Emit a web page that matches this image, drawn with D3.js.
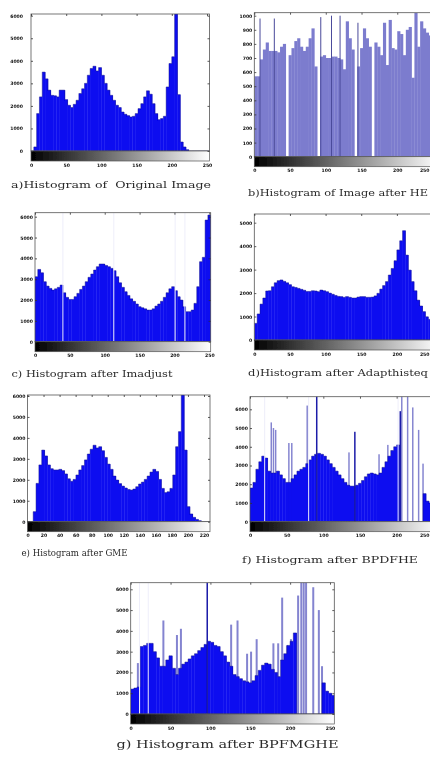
<!DOCTYPE html>
<html>
<head>
<meta charset="utf-8">
<title>Histograms</title>
<script src="https://d3js.org/d3.v7.min.js"></script>
<style>
  html, body { margin: 0; padding: 0; background: #fff; }
  svg { display: block; }
  .tick text { font-family: "DejaVu Sans", sans-serif; font-weight: bold; font-size: 4.6px; fill: #111; }
  .tick line { stroke: #333; stroke-width: 0.8; }
  .caption { font-family: "DejaVu Serif", "Liberation Serif", serif; fill: #2a2a2a; white-space: pre; }
</style>
</head>
<body>
<svg id="chart" width="430" height="766"></svg>
<script>
'use strict';

// axis ticks
var levelTicks = [0, 50, 100, 150, 200, 250],
    gmeTicks = [0, 20, 40, 60, 80, 100, 120, 140, 160, 180, 200, 220],
    countTicks = [0, 1000, 2000, 3000, 4000, 5000, 6000],
    heTicks = [0, 100, 200, 300, 400, 500, 600, 700, 800, 900, 1000],
    adaptTicks = [0, 1000, 2000, 3000, 4000, 5000];

// pixel counts, one value per bin of 4 gray levels
var originalCounts = [0, 180, 1660, 2400, 3500, 3200, 2700, 2470, 2450, 2400,
    2700, 2700, 2280, 2030, 1930, 2070, 2250, 2550, 2760, 3000,
    3360, 3660, 3760, 3550, 3700, 3360, 3000, 2700, 2470, 2250,
    2030, 1930, 1730, 1630, 1570, 1510, 1540, 1660, 1880, 2100,
    2400, 2670, 2520, 2100, 1660, 1390, 1440, 1540, 2840, 3880,
    4180, 6300, 2500, 400, 180, 60, 0, 0, 0, 0,
    0, 0, 0, 0];

var heCounts = [570, 570, 690, 760, 810, 750, 750, 750, 740, 780,
    800, 0, 720, 770, 820, 840, 780, 750, 780, 840,
    910, 640, 0, 710, 720, 700, 700, 710, 710, 700,
    690, 620, 960, 840, 760, 0, 640, 770, 910, 840,
    780, 0, 810, 780, 720, 950, 650, 970, 770, 760,
    890, 870, 720, 900, 920, 560, 1020, 780, 960, 910,
    880, 860, 850, 840];
var heLines = [[8, 980], [28, 980], [93, 990], [108, 1000], [120, 1000], [145, 950]];

var imadjustCounts = [3120, 3470, 3310, 2880, 2670, 2560, 2480, 2540, 2610, 2720,
    2350, 2130, 2030, 2030, 2160, 2320, 2510, 2670, 2880, 3090,
    3250, 3440, 3600, 3730, 3730, 3660, 3600, 3520, 3410, 3120,
    2830, 2610, 2400, 2220, 2060, 1940, 1810, 1680, 1630, 1580,
    1520, 1520, 1580, 1710, 1810, 1940, 2130, 2350, 2540, 2640,
    2450, 2160, 2000, 1680, 1440, 1440, 1520, 1840, 2640, 3840,
    4050, 5840, 6080, 5680];
var imadjustGaps = [40, 113, 201, 215];

var adaptCounts = [710, 1110, 1530, 1790, 2090, 2100, 2270, 2440, 2530, 2560,
    2500, 2440, 2360, 2270, 2240, 2200, 2160, 2120, 2070, 2070,
    2100, 2090, 2060, 2130, 2100, 2060, 2000, 1950, 1900, 1860,
    1850, 1820, 1850, 1820, 1790, 1790, 1830, 1850, 1850, 1820,
    1820, 1830, 1880, 1990, 2170, 2320, 2490, 2770, 3050, 3380,
    3840, 4230, 4660, 3620, 2980, 2490, 2100, 1700, 1450, 1210,
    990, 880, 780, 680];

var gmeCounts = [0, 0, 480, 1830, 2710, 3420, 3140, 2710, 2530, 2470,
    2470, 2500, 2440, 2280, 2050, 1930, 2020, 2230, 2470, 2680,
    2950, 3230, 3460, 3650, 3520, 3580, 3390, 3070, 2750, 2500,
    2180, 1990, 1820, 1700, 1610, 1540, 1510, 1560, 1670, 1800,
    1890, 2020, 2180, 2370, 2500, 2400, 2020, 1590, 1390, 1430,
    1590, 2230, 3580, 4300, 6100, 3420, 720, 370, 210, 110,
    50, 0, 0, 0];

var bpdfheCounts = [1800, 2100, 2800, 3200, 3500, 3400, 2700, 2600, 2600, 2700,
    2500, 2300, 2100, 2100, 2300, 2500, 2700, 2800, 2900, 3100,
    3300, 3500, 3600, 3650, 3600, 3500, 3300, 3100, 2900, 2700,
    2500, 2300, 2100, 1950, 1900, 1900, 1950, 2050, 2200, 2400,
    2550, 2600, 2550, 2500, 2600, 2900, 3200, 3500, 3800, 4000,
    4100, 0, 0, 0, 0, 0, 0, 0, 0, 1500,
    1100, 1000, 800, 600];
// [gray level, count, tone] : l = light stem, d = dark stem
var bpdfheSpikes = [[29, 5300, 'l'], [32, 5000, 'l'], [35, 4900, 'l'], [53, 4200, 'l'], [57, 4200, 'l'],
    [78, 6200, 'l'], [91, 6800, 'd'], [135, 3700, 'l'], [143, 4800, 'd'], [176, 3600, 'l'],
    [188, 4100, 'l'], [205, 5900, 'd'], [207, 6800, 'l'], [215, 6800, 'l'], [222, 6100, 'l'],
    [230, 4900, 'l'], [236, 3100, 'l']];
var bpdfheGaps = [20, 80, 202];

var bpfmgheCounts = [1200, 1250, 1300, 3250, 3300, 3400, 3400, 3000, 2700, 2300,
    2300, 2600, 2800, 2200, 1900, 2200, 2400, 2500, 2650, 2800,
    2900, 3050, 3200, 3350, 3500, 3450, 3300, 3250, 3000, 2800,
    2500, 2300, 1900, 1800, 1700, 1600, 1550, 1500, 1600, 1850,
    2100, 2350, 2450, 2400, 2150, 2000, 1800, 2600, 2900, 3300,
    3500, 3900, 0, 0, 0, 0, 0, 0, 0, 0,
    1500, 1100, 1000, 900];
var bpfmgheSpikes = [[9, 2450, 'l'], [41, 4500, 'l'], [58, 3800, 'l'], [63, 4100, 'l'], [96, 6500, 'd'],
    [126, 4300, 'l'], [134, 4500, 'l'], [146, 2900, 'l'], [151, 3000, 'l'], [158, 3600, 'l'],
    [179, 3400, 'l'], [185, 3400, 'l'], [190, 5600, 'l'], [196, 3300, 'l'], [201, 3600, 'l'],
    [210, 5700, 'l'], [214, 6500, 'l'], [217, 6500, 'l'], [220, 6500, 'l'], [229, 6100, 'l'],
    [236, 5000, 'l'], [240, 2300, 'l']];
var bpfmgheGaps = [11, 22];

var captions = [
    'a)Histogram of  Original Image',
    'b)Histogram of Image after HE',
    'c) Histogram after Imadjust',
    'd)Histogram after Adapthisteq',
    'e) Histogram after GME',
    'f) Histogram after BPDFHE',
    'g) Histogram after BPFMGHE'
];

var blue = '#0808f0',
    edge = '#1a1a8c',
    light = '#8484d0',
    dark = '#1c1ca8',
    heFill = '#7c7cce',
    heLine = '#4a4a9a';

// cap: [left, middle y, width, font size]
var panels = [
    { counts: originalCounts, bin: 4, xTicks: levelTicks, xRef: 250, yTicks: countTicks, yRef: 6000,
      x0: 31, x1: 207, R: 209.5, T: 14, B: 151, yTop: 15.7, gap: 8, fill: blue,
      cap: [11, 185, 200, 10] },
    { counts: heCounts, bin: 4, xTicks: levelTicks, xRef: 250, yTicks: heTicks, yRef: 1000,
      x0: 254.3, x1: 433, R: 440, T: 12.7, B: 156.7, yTop: 15.7, gap: 2, fill: heFill,
      lines: heLines, noEdge: true, cap: [248, 192.7, 180, 10] },
    { counts: imadjustCounts, bin: 4, xTicks: levelTicks, xRef: 250, yTicks: countTicks, yRef: 6000,
      x0: 35, x1: 209.3, R: 210.7, T: 212.7, B: 341.7, yTop: 216.7, gap: 2, fill: blue,
      gaps: imadjustGaps, cap: [11.5, 373.3, 161, 10] },
    { counts: adaptCounts, bin: 4, xTicks: levelTicks, xRef: 250, yTicks: adaptTicks, yRef: 5000,
      x0: 254.3, x1: 432.5, R: 440, T: 214, B: 340, yTop: 222.7, gap: 2, fill: blue,
      cap: [248, 373, 180, 10] },
    { counts: gmeCounts, bin: 3.55, xTicks: gmeTicks, xRef: 220, yTicks: countTicks, yRef: 6000,
      x0: 27.5, x1: 204, R: 210, T: 395, B: 521.7, yTop: 396, gap: 2, fill: blue,
      cap: [21.5, 553, 106, 8.5] },
    { counts: bpdfheCounts, bin: 4, xTicks: levelTicks, xRef: 250, yTicks: countTicks, yRef: 6000,
      x0: 250, x1: 433.3, R: 440, T: 396.7, B: 521.7, yTop: 409.3, gap: 2, fill: blue,
      spikes: bpdfheSpikes, spikeW: 2, gaps: bpdfheGaps, cap: [242, 560, 176, 10] },
    { counts: bpfmgheCounts, bin: 4, xTicks: levelTicks, xRef: 250, yTicks: countTicks, yRef: 6000,
      x0: 130.7, x1: 330, R: 334.3, T: 582.7, B: 714, yTop: 589.3, gap: 2, fill: blue,
      spikes: bpfmgheSpikes, spikeW: 2.5, gaps: bpfmgheGaps, cap: [116.5, 744, 222, 11.5] }
];

var svg = d3.select('#chart'),
    defs = svg.append('defs');

defs.append('filter')
    .attr('id', 'soft')
    .attr('filterUnits', 'userSpaceOnUse')
    .attr('x', 0).attr('y', 0).attr('width', 430).attr('height', 766)
    .append('feGaussianBlur').attr('stdDeviation', 0.55);

var grad = defs.append('linearGradient').attr('id', 'grayramp');
grad.append('stop').attr('offset', '0%').attr('stop-color', '#000');
grad.append('stop').attr('offset', '100%').attr('stop-color', '#fff');

var root = svg.append('g').attr('filter', 'url(#soft)');
root.append('rect').attr('width', 430).attr('height', 766).attr('fill', '#fff');

function keepInside( axisG ){
    // tick labels past the window edge are nudged back in
    axisG.selectAll('.tick text').each(function(){
        var box = this.getBoundingClientRect();
        if ( box.right > 429.5 ){
            d3.select(this).attr('x', -(box.right - 429.5));
        }
    });
}

function drawPanel( p, idx ){
    var x = d3.scaleLinear().domain([0, p.xRef]).range([p.x0, p.x1]),
        y = d3.scaleLinear().domain([0, p.yRef]).range([p.B, p.yTop]),
        g = root.append('g').attr('class', 'panel'),
        clipId = 'plot-clip-' + idx,
        binW = x(p.bin) - x(0),
        spikes = p.spikes || [],
        fmt = d3.format('d'),
        plot;

    defs.append('clipPath').attr('id', clipId)
        .append('rect')
        .attr('x', p.x0).attr('y', p.T)
        .attr('width', p.R - p.x0).attr('height', p.B - p.T);

    plot = g.append('g').attr('clip-path', 'url(#' + clipId + ')');

    // light stems sit behind the histogram body
    plot.selectAll('rect.stem-light')
        .data(spikes.filter(function( d ){ return d[2] === 'l'; }))
        .join('rect')
        .attr('class', 'stem-light')
        .attr('x', function( d ){ return x(d[0]) - (x(p.spikeW) - x(0)) / 2; })
        .attr('width', x(p.spikeW) - x(0))
        .attr('y', function( d ){ return y(d[1]); })
        .attr('height', function( d ){ return p.B - y(d[1]); })
        .attr('fill', light);

    plot.selectAll('rect.bin')
        .data(p.counts)
        .join('rect')
        .attr('class', 'bin')
        .attr('x', function( d, i ){ return x(i * p.bin); })
        .attr('width', binW + 0.3)
        .attr('y', function( d ){ return y(d); })
        .attr('height', function( d ){ return p.B - y(d); })
        .attr('fill', p.fill);

    if ( !p.noEdge ){
        var pts = p.counts.flatMap(function( v, i ){
            return [[i * p.bin, v], [(i + 1) * p.bin, v]];
        });
        plot.append('path')
            .attr('d', d3.line()
                .x(function( d ){ return x(d[0]); })
                .y(function( d ){ return y(d[1]); })(pts))
            .attr('fill', 'none')
            .attr('stroke', edge)
            .attr('stroke-width', 0.6)
            .attr('stroke-opacity', 0.8);
    }

    if ( p.gaps ){
        plot.selectAll('rect.gap')
            .data(p.gaps)
            .join('rect')
            .attr('class', 'gap')
            .attr('x', function( d ){ return x(d) - 0.5; })
            .attr('width', 1)
            .attr('y', p.T)
            .attr('height', p.B - p.T)
            .attr('fill', '#eeeefa');
    }

    plot.selectAll('rect.stem-dark')
        .data(spikes.filter(function( d ){ return d[2] === 'd'; }))
        .join('rect')
        .attr('class', 'stem-dark')
        .attr('x', function( d ){ return x(d[0]) - 0.75; })
        .attr('width', 1.5)
        .attr('y', function( d ){ return y(d[1]); })
        .attr('height', function( d ){ return p.B - y(d[1]); })
        .attr('fill', dark);

    if ( p.lines ){
        plot.selectAll('line.he')
            .data(p.lines)
            .join('line')
            .attr('class', 'he')
            .attr('x1', function( d ){ return x(d[0]); })
            .attr('x2', function( d ){ return x(d[0]); })
            .attr('y1', p.B)
            .attr('y2', function( d ){ return y(d[1]); })
            .attr('stroke', heLine)
            .attr('stroke-width', 1);
    }

    // plot frame
    g.append('rect')
        .attr('x', p.x0).attr('y', p.T)
        .attr('width', p.R - p.x0).attr('height', p.B - p.T)
        .attr('fill', 'none')
        .attr('stroke', '#555')
        .attr('stroke-width', 0.8);

    // gray ramp under the axis
    g.append('rect')
        .attr('x', p.x0).attr('y', p.B)
        .attr('width', p.R - p.x0).attr('height', 10)
        .attr('fill', 'url(#grayramp)')
        .attr('stroke', '#555')
        .attr('stroke-width', 0.7);

    g.append('g')
        .attr('transform', 'translate(' + p.x0 + ',0)')
        .call(d3.axisLeft(y).tickValues(p.yTicks).tickFormat(fmt)
            .tickSizeInner(-2).tickSizeOuter(0).tickPadding(p.gap))
        .call(function( a ){ a.select('.domain').remove(); });

    g.append('g')
        .attr('transform', 'translate(' + p.R + ',0)')
        .call(d3.axisRight(y).tickValues(p.yTicks).tickSizeInner(-2).tickSizeOuter(0).tickFormat(''))
        .call(function( a ){ a.select('.domain').remove(); });

    g.append('g')
        .attr('transform', 'translate(0,' + p.T + ')')
        .call(d3.axisTop(x).tickValues(p.xTicks).tickSizeInner(-2).tickSizeOuter(0).tickFormat(''))
        .call(function( a ){ a.select('.domain').remove(); });

    g.append('g')
        .attr('transform', 'translate(0,' + (p.B + 10) + ')')
        .call(d3.axisBottom(x).tickValues(p.xTicks).tickFormat(fmt).tickSize(0).tickPadding(2.5))
        .call(function( a ){ a.select('.domain').remove(); })
        .call(keepInside);

    g.append('text')
        .attr('class', 'caption')
        .attr('x', p.cap[0])
        .attr('y', p.cap[1] + p.cap[3] * 0.33)
        .attr('textLength', p.cap[2])
        .attr('lengthAdjust', 'spacingAndGlyphs')
        .style('font-size', p.cap[3] + 'px')
        .text(captions[idx]);
}

panels.forEach(drawPanel);
</script>
</body>
</html>
